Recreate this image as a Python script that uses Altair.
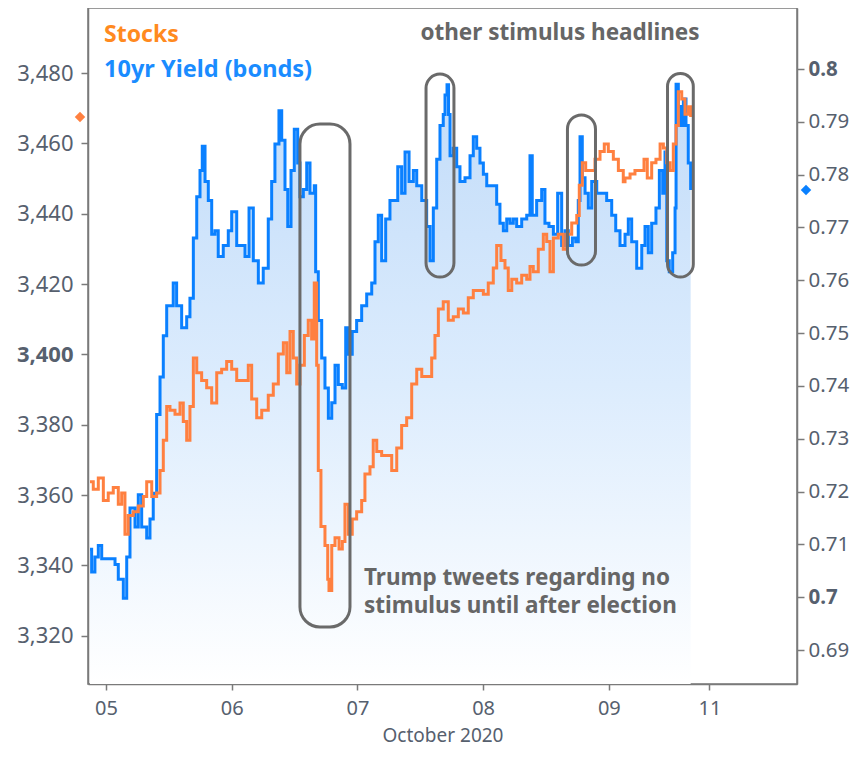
import altair as alt
import pandas as pd

# ---------------- data ----------------
# x = trading-day position (0 = Oct 05, 1 = Oct 06, ...)
stock_day = [-0.127, -0.101, -0.061, -0.021, 0.018, 0.058, 0.098, 0.125, 0.151, 0.177,
             0.217, 0.257, 0.297, 0.324, 0.364, 0.403, 0.430, 0.456, 0.483, 0.509,
             0.549, 0.589, 0.615, 0.642, 0.668, 0.695, 0.722, 0.761, 0.801, 0.841,
             0.881, 0.920, 0.960, 1.000, 1.040, 1.080, 1.132, 1.159, 1.199, 1.239,
             1.278, 1.291, 1.331, 1.371, 1.411, 1.438, 1.464, 1.490, 1.517, 1.543,
             1.578, 1.609, 1.636, 1.657, 1.676, 1.689, 1.710, 1.742, 1.764, 1.774,
             1.796, 1.822, 1.854, 1.880, 1.901, 1.928, 1.959, 1.994, 2.034, 2.060,
             2.100, 2.126, 2.154, 2.193, 2.233, 2.273, 2.313, 2.352, 2.392, 2.432,
             2.472, 2.512, 2.551, 2.591, 2.617, 2.644, 2.683, 2.723, 2.763, 2.803,
             2.843, 2.882, 2.922, 2.962, 3.002, 3.041, 3.081, 3.108, 3.142, 3.174,
             3.200, 3.228, 3.267, 3.307, 3.347, 3.373, 3.399, 3.439, 3.479, 3.506,
             3.532, 3.559, 3.598, 3.638, 3.665, 3.705, 3.745, 3.765, 3.789, 3.816,
             3.850, 3.890, 3.930, 3.964, 3.996, 4.036, 4.076, 4.115, 4.129, 4.169,
             4.208, 4.248, 4.280, 4.306, 4.341, 4.375, 4.408, 4.434, 4.461, 4.487,
             4.513, 4.535, 4.553, 4.580, 4.606, 4.632, 4.651]
stock_val = [3363.8, 3361.7, 3364.9, 3358.5, 3360.6, 3362.2, 3357.4, 3360.6, 3348.9, 3354.2,
             3355.3, 3356.9, 3359.6, 3363.8, 3359.6, 3360.6, 3367.0, 3375.6, 3385.2, 3384.1,
             3383.0, 3386.2, 3380.9, 3375.6, 3385.2, 3399.0, 3394.8, 3392.6, 3390.5, 3386.2,
             3394.8, 3395.8, 3398.0, 3395.8, 3392.6, 3392.6, 3396.9, 3387.3, 3382.0, 3384.1,
             3384.1, 3388.4, 3391.6, 3400.1, 3403.3, 3394.8, 3406.5, 3399.0, 3391.6, 3396.9,
             3405.4, 3409.7, 3404.4, 3420.3, 3396.9, 3367.0, 3351.1, 3345.7, 3336.1, 3332.9,
             3345.7, 3347.9, 3344.7, 3346.8, 3357.4, 3348.9, 3353.2, 3355.3, 3358.5, 3366.0,
             3368.1, 3375.6, 3372.4, 3371.3, 3371.3, 3367.0, 3373.4, 3379.8, 3382.0, 3391.6,
             3395.8, 3393.7, 3393.7, 3399.0, 3405.4, 3412.9, 3415.0, 3409.7, 3410.7, 3412.9,
             3411.8, 3416.1, 3418.2, 3418.2, 3417.1, 3420.3, 3424.6, 3431.0, 3426.7, 3424.6,
             3418.2, 3421.4, 3420.3, 3422.5, 3421.4, 3425.0, 3423.5, 3429.9, 3434.2, 3432.1,
             3423.5, 3433.1, 3434.2, 3429.9, 3434.2, 3437.4, 3439.5, 3448.1, 3454.5, 3452.3,
             3452.3, 3455.5, 3457.7, 3459.8, 3457.7, 3455.5, 3452.3, 3449.1, 3450.2, 3451.3,
             3452.3, 3452.3, 3455.5, 3450.2, 3454.5, 3455.5, 3459.8, 3458.7, 3454.5, 3452.3,
             3459.8, 3465.1, 3474.7, 3472.6, 3468.3, 3470.4, 3467.5]

yield_day = [-0.127, -0.114, -0.088, -0.061, -0.034, 0.018, 0.072, 0.098, 0.138, 0.165,
             0.191, 0.231, 0.257, 0.284, 0.324, 0.350, 0.376, 0.403, 0.430, 0.456,
             0.483, 0.535, 0.562, 0.602, 0.642, 0.668, 0.695, 0.722, 0.748, 0.766,
             0.788, 0.814, 0.841, 0.867, 0.893, 0.933, 0.973, 1.000, 1.040, 1.080,
             1.106, 1.138, 1.172, 1.212, 1.251, 1.291, 1.318, 1.344, 1.376, 1.398,
             1.424, 1.446, 1.472, 1.498, 1.525, 1.543, 1.570, 1.597, 1.623, 1.657,
             1.668, 1.689, 1.716, 1.742, 1.769, 1.796, 1.822, 1.848, 1.880, 1.907,
             1.928, 1.959, 1.994, 2.034, 2.074, 2.114, 2.140, 2.166, 2.193, 2.225,
             2.259, 2.294, 2.321, 2.352, 2.379, 2.411, 2.445, 2.472, 2.512, 2.551,
             2.578, 2.604, 2.631, 2.657, 2.683, 2.697, 2.713, 2.725, 2.737, 2.763,
             2.790, 2.816, 2.856, 2.896, 2.922, 2.949, 2.975, 3.002, 3.029, 3.068,
             3.108, 3.134, 3.161, 3.188, 3.214, 3.240, 3.267, 3.307, 3.347, 3.373,
             3.391, 3.426, 3.466, 3.492, 3.524, 3.559, 3.593, 3.625, 3.652, 3.678,
             3.710, 3.737, 3.757, 3.771, 3.789, 3.811, 3.837, 3.864, 3.904, 3.943,
             3.983, 4.023, 4.055, 4.089, 4.129, 4.155, 4.182, 4.222, 4.262, 4.288,
             4.314, 4.341, 4.375, 4.402, 4.429, 4.447, 4.461, 4.481, 4.508, 4.527,
             4.535, 4.553, 4.572, 4.593, 4.614, 4.632, 4.651]
yield_val = [0.7091, 0.7048, 0.7076, 0.7098, 0.7073, 0.7073, 0.7062, 0.7034, 0.6998, 0.7076,
             0.7169, 0.7133, 0.7194, 0.7133, 0.7112, 0.7148, 0.7197, 0.7346, 0.7417, 0.7495,
             0.7552, 0.7595, 0.7552, 0.7510, 0.7531, 0.7566, 0.7680, 0.7758, 0.7808, 0.7854,
             0.7787, 0.7751, 0.7687, 0.7694, 0.7645, 0.7666, 0.7694, 0.7730, 0.7666, 0.7666,
             0.7645, 0.7737, 0.7637, 0.7595, 0.7623, 0.7716, 0.7787, 0.7858, 0.7921, 0.7865,
             0.7772, 0.7702, 0.7808, 0.7886, 0.7822, 0.7758, 0.7772, 0.7822, 0.7765, 0.7779,
             0.7616, 0.7524, 0.7453, 0.7396, 0.7339, 0.7368, 0.7439, 0.7403, 0.7396, 0.7510,
             0.7460, 0.7503, 0.7524, 0.7552, 0.7574, 0.7595, 0.7673, 0.7723, 0.7637, 0.7716,
             0.7751, 0.7751, 0.7815, 0.7765, 0.7843, 0.7787, 0.7808, 0.7779, 0.7751, 0.7702,
             0.7637, 0.7737, 0.7829, 0.7893, 0.7914, 0.7951, 0.7970, 0.7914, 0.7836, 0.7850,
             0.7815, 0.7787, 0.7794, 0.7836, 0.7872, 0.7850, 0.7822, 0.7801, 0.7779, 0.7779,
             0.7744, 0.7708, 0.7694, 0.7716, 0.7708, 0.7716, 0.7702, 0.7716, 0.7723, 0.7836,
             0.7723, 0.7751, 0.7772, 0.7708, 0.7702, 0.7687, 0.7765, 0.7666, 0.7694, 0.7666,
             0.7680, 0.7673, 0.7751, 0.7872, 0.7794, 0.7765, 0.7737, 0.7787, 0.7765, 0.7765,
             0.7751, 0.7723, 0.7694, 0.7666, 0.7687, 0.7716, 0.7673, 0.7623, 0.7666, 0.7702,
             0.7652, 0.7708, 0.7737, 0.7808, 0.7765, 0.7843, 0.7637, 0.7616, 0.7652, 0.7737,
             0.7971, 0.7929, 0.7893, 0.7943, 0.7893, 0.7822, 0.7771]

x_tick_pos = [0, 1, 2, 3, 4, 4.8]
x_tick_lab = ["05", "06", "07", "08", "09", "11"]
stock_ticks = [3320, 3340, 3360, 3380, 3400, 3420, 3440, 3460, 3480]
yield_ticks = [0.69, 0.70, 0.71, 0.72, 0.73, 0.74, 0.75, 0.76, 0.77, 0.78, 0.79, 0.80]

# highlighted periods (rounded boxes), in data units (day, stock level)
box_x0 = [1.543, 2.546, 3.671, 4.467]
box_x1 = [1.941, 2.768, 3.894, 4.672]
box_top = [3465.5, 3479.7, 3468.1, 3479.9]
box_bot = [3322.5, 3422.0, 3425.4, 3422.0]
box_round = [20, 14, 14, 14]

legend_labels = ["Stocks", "10yr Yield (bonds)"]
note_top = "other stimulus headlines"
note_bottom = ["Trump tweets regarding no", "stimulus until after election"]
x_title = "October 2020"

# ---------------- styling ----------------
FONT = "Noto Sans"
LABEL_COLOR = "#56606e"
AXIS_COLOR = "#7a7a7a"
ORANGE = "#ff8040"
BLUE = "#0a80ff"
NOTE_GRAY = "#666666"
W, H = 709, 676
S_DOMAIN = [3306.3, 3498.5]
Y_DOMAIN = [0.68358, 0.81155]

stocks = pd.DataFrame({"day": stock_day, "val": stock_val})
yields = pd.DataFrame({"day": yield_day, "val": yield_val})
boxes = pd.DataFrame({"x0": box_x0, "x1": box_x1, "top": box_top, "bot": box_bot, "r": box_round})

lab_expr = " : ".join(
    f"datum.value == {p} ? '{l}'" for p, l in zip(x_tick_pos, x_tick_lab)
) + " : ''"

x_scale = alt.Scale(domain=[-0.143, 5.497], nice=False, zero=False)
x_axis = alt.Axis(values=x_tick_pos, labelExpr=lab_expr, title=x_title, grid=False,
                  tickSize=6, labelFontSize=20, titleFontSize=19, titleFontWeight="normal",
                  labelPadding=8, titlePadding=8, labelColor=LABEL_COLOR, titleColor=LABEL_COLOR,
                  domainColor=AXIS_COLOR, tickColor=AXIS_COLOR, domainWidth=1.5, tickWidth=1.5)
x_enc = alt.X("day:Q", scale=x_scale, axis=x_axis)

s_scale = alt.Scale(domain=S_DOMAIN, nice=False, zero=False)
s_axis = alt.Axis(orient="left", values=stock_ticks, labelExpr="format(datum.value, ',')",
                  grid=False, title=None,
                  labelFontSize=22, tickSize=7, labelPadding=8, labelColor=LABEL_COLOR,
                  domainColor=AXIS_COLOR, tickColor=AXIS_COLOR, domainWidth=1.5, tickWidth=1.5,
                  labelFontWeight={"condition": {"test": "datum.value == 3400", "value": "bold"},
                                   "value": "normal"})
y_s = alt.Y("val:Q", scale=s_scale, axis=s_axis)

y_scale = alt.Scale(domain=Y_DOMAIN, nice=False, zero=False)
y_axis = alt.Axis(orient="right", values=yield_ticks, labelExpr="format(datum.value, '.2~f')",
                  grid=False, title=None,
                  labelFontSize=20.5, tickSize=7, labelPadding=4, labelColor=LABEL_COLOR,
                  domainColor=AXIS_COLOR, tickColor=AXIS_COLOR, domainWidth=1.5, tickWidth=1.5,
                  labelFontWeight={"condition": {"test": "datum.value == 0.8 || datum.value == 0.7",
                                                 "value": "bold"}, "value": "normal"})
y_y = alt.Y("val:Q", scale=y_scale, axis=y_axis)

gradient = alt.Gradient(
    gradient="linear", x1=0, x2=0, y1=0, y2=1,
    stops=[alt.GradientStop(color="#c2dcf9", offset=0),
           alt.GradientStop(color="#dcecfd", offset=0.5),
           alt.GradientStop(color="#ffffff", offset=1)])

blue_area = alt.Chart(yields).mark_area(interpolate="step-after", color=gradient).encode(
    x=x_enc, y=y_y, y2=alt.datum(Y_DOMAIN[0]))
blue_line = alt.Chart(yields).mark_line(interpolate="step-after", color=BLUE, strokeWidth=3).encode(
    x=x_enc, y=y_y)
blue_diamond = alt.Chart(yields).transform_window(
    rn="row_number()", sort=[alt.SortField("day", order="descending")]
).transform_filter("datum.rn == 1").mark_point(
    shape="diamond", filled=True, size=110, color=BLUE, opacity=1).encode(
    x=alt.value(W + 9), y=y_y)

right = alt.layer(blue_area, blue_line, blue_diamond)

orange_line = alt.Chart(stocks).mark_line(interpolate="step-after", color=ORANGE, strokeWidth=3).encode(
    x=x_enc, y=y_s)
orange_diamond = alt.Chart(stocks).transform_window(
    rn="row_number()", sort=[alt.SortField("day", order="descending")]
).transform_filter("datum.rn == 1").mark_point(
    shape="diamond", filled=True, size=110, color=ORANGE, opacity=1).encode(
    x=alt.value(-8), y=y_s)

box_big = alt.Chart(boxes).transform_filter("datum.r > 15").mark_rect(
    cornerRadius=20, fillOpacity=0, stroke="#6a6a6a", strokeWidth=3).encode(
    x=alt.X("x0:Q", scale=x_scale, axis=x_axis), x2="x1:Q",
    y=alt.Y("top:Q", scale=s_scale, axis=s_axis), y2="bot:Q")
box_small = alt.Chart(boxes).transform_filter("datum.r <= 15").mark_rect(
    cornerRadius=14, fillOpacity=0, stroke="#6a6a6a", strokeWidth=3).encode(
    x=alt.X("x0:Q", scale=x_scale, axis=x_axis), x2="x1:Q",
    y=alt.Y("top:Q", scale=s_scale, axis=s_axis), y2="bot:Q")

left = alt.layer(orange_line, box_big, box_small, orange_diamond)

base_txt = alt.Chart(pd.DataFrame({"a": [0]}))
t_stocks = base_txt.mark_text(align="left", baseline="middle", fontSize=23, fontWeight="bold",
                              color="#ff8a1f", font=FONT).encode(
    x=alt.value(16), y=alt.value(27), text=alt.value(legend_labels[0]))
t_yield = base_txt.mark_text(align="left", baseline="middle", fontSize=23.5, fontWeight="bold",
                             color="#1a8cff", font=FONT).encode(
    x=alt.value(16), y=alt.value(62), text=alt.value(legend_labels[1]))
t_top = base_txt.mark_text(align="center", baseline="middle", fontSize=22.5, fontWeight="bold",
                           color=NOTE_GRAY, font=FONT).encode(
    x=alt.value(472), y=alt.value(25), text=alt.value(note_top))
t_bottom = base_txt.mark_text(align="left", baseline="top", fontSize=22.5, fontWeight="bold",
                              color=NOTE_GRAY, font=FONT, lineHeight=28).encode(
    x=alt.value(276), y=alt.value(559), text=alt.value(note_bottom))

chart = alt.layer(right, left, t_stocks, t_yield, t_top, t_bottom).resolve_scale(
    y="independent"
).properties(
    width=W, height=H,
    autosize=alt.AutoSizeParams(type="none"),
    padding={"left": 80, "top": 0, "right": 54, "bottom": 64},
    background="white",
).configure(font=FONT).configure_view(stroke=AXIS_COLOR, strokeWidth=1.5)

chart.save("out.html", embed_options={"renderer": "svg", "actions": False})
